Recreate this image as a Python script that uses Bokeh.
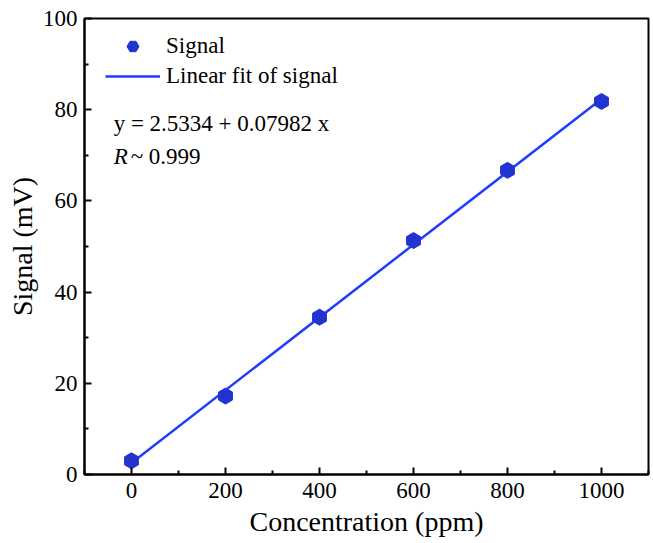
import math
from bokeh.plotting import figure
from bokeh.models import FixedTicker, Label, Legend, LegendItem
from bokeh.embed import file_html
from bokeh.resources import INLINE

# Data
concentration = [0, 200, 400, 600, 800, 1000]
signal = [3.0, 17.2, 34.5, 51.3, 66.7, 81.8]
fit_x = [0, 1000]
fit_y = [2.5334, 82.3534]
x_ticks = [0, 200, 400, 600, 800, 1000]
x_minor = [-100, 100, 300, 500, 700, 900, 1100]
y_ticks = [0, 20, 40, 60, 80, 100]
y_minor = [10, 30, 50, 70, 90]
equation_text = "y = 2.5334 + 0.07982 x"
r_symbol = "R"
r_text = "~ 0.999"

FONT = "Liberation Serif"

p = figure(width=650, height=541, x_range=(-100, 1100), y_range=(0, 100),
           output_backend="svg", toolbar_location=None,
           min_border_left=84, min_border_right=2, min_border_top=18, min_border_bottom=67)
p.xgrid.visible = False
p.ygrid.visible = False
p.outline_line_color = "black"
p.outline_line_width = 2
p.outline_line_alpha = 1.0

for ax, ticks, minor in ((p.xaxis[0], x_ticks, x_minor), (p.yaxis[0], y_ticks, y_minor)):
    ax.ticker = FixedTicker(ticks=ticks, minor_ticks=minor)
    ax.major_tick_in = 7
    ax.major_tick_out = 0
    ax.minor_tick_in = 4
    ax.minor_tick_out = 0
    ax.axis_line_width = 2
    ax.major_tick_line_width = 2
    ax.minor_tick_line_width = 2
    ax.axis_line_color = "black"
    ax.major_tick_line_color = "black"
    ax.minor_tick_line_color = "black"
    ax.major_label_text_font = FONT
    ax.major_label_text_font_size = "23px"
    ax.major_label_text_color = "black"
    ax.axis_label_text_font = FONT
    ax.axis_label_text_font_size = "28px"
    ax.axis_label_text_font_style = "normal"
    ax.axis_label_text_color = "black"

p.xaxis.axis_label = "Concentration (ppm)"
p.yaxis.axis_label = "Signal (mV)"
p.xaxis.major_label_standoff = 8
p.yaxis.major_label_standoff = 7
p.xaxis.axis_label_standoff = 5
p.yaxis.axis_label_standoff = 2

line = p.line(fit_x, fit_y, line_color="#1f3dff", line_width=2.5)
pts = p.scatter(concentration, signal, marker="hex", size=16, angle=math.pi / 6,
                fill_color="#2233d0", line_color="#2233d0")

legend = Legend(items=[LegendItem(label="Signal", renderers=[pts]),
                       LegendItem(label="Linear fit of signal", renderers=[line])],
                location=(11, 373))
legend.border_line_alpha = 0
legend.background_fill_alpha = 0
legend.label_text_font = FONT
legend.label_text_font_size = "23px"
legend.label_text_color = "black"
legend.glyph_width = 55
legend.glyph_height = 30
legend.label_height = 30
legend.label_standoff = 6
legend.spacing = 0
legend.margin = 0
legend.padding = 10
p.add_layout(legend)

p.add_layout(Label(x=-38, y=77, text=equation_text, text_font=FONT,
                   text_font_size="23px", text_baseline="middle", text_color="black"))
p.add_layout(Label(x=-38, y=69.8, text=r_symbol, text_font=FONT, text_font_style="italic",
                   text_font_size="23px", text_baseline="middle", text_color="black"))
p.add_layout(Label(x=-38, y=69.8, x_offset=17, text=r_text, text_font=FONT,
                   text_font_size="23px", text_baseline="middle", text_color="black"))

open("out.html", "w").write(file_html(p, INLINE))
